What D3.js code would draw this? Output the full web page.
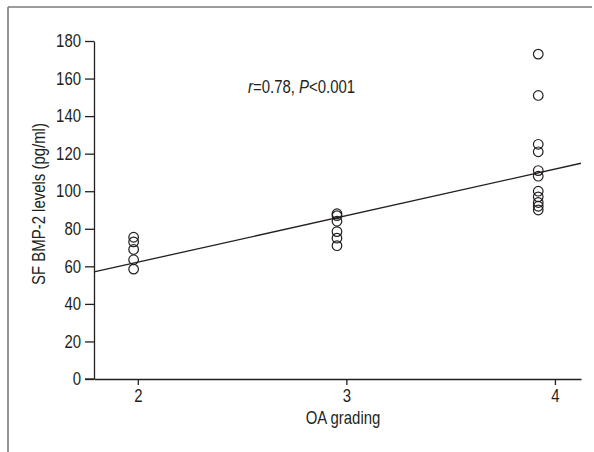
<!DOCTYPE html>
<html>
<head>
<meta charset="utf-8">
<script src="https://cdn.jsdelivr.net/npm/d3@7"></script>
<style>
  html, body { margin: 0; padding: 0; background: #fff; }
  svg text { font-family: "Liberation Sans", Arial, sans-serif; fill: #231f20; }
</style>
</head>
<body>
<svg id="chart" width="594" height="452"></svg>
<script>
// Data
const grades = [2, 3, 4];
const gradePositions = [1.98, 2.955, 3.92];   // plotted x of each group
const group2 = [75.5, 73, 69, 63.5, 58.5];
const group3 = [88, 87, 84, 78.5, 75, 71];
const group4 = [173, 151, 125, 121, 111, 108, 100, 97, 94, 92, 90];
const yTicks = [0, 20, 40, 60, 80, 100, 120, 140, 160, 180];
const xTicks = [2, 3, 4];
const fitIntercept = 12.6;
const fitSlope = 24.8;
const annotation = { r: "0.78", p: "0.001" };

const SX = 0.83;      // horizontal condensing of text
const FS = 18;
const svg = d3.select("#chart");
const x = d3.scaleLinear().domain([1.79, 4.125]).range([94, 581]);
const y = d3.scaleLinear().domain([0, 180]).range([379, 41]);

function condense(sel) {
  sel.each(function () {
    const el = d3.select(this);
    const xv = +(el.attr("x") || 0);
    el.attr("x", xv / SX);
    const tr = el.attr("transform") || "";
    el.attr("transform", (tr + " scale(" + SX + ",1)").trim());
  });
}

// frame
svg.append("line").attr("x1", 8).attr("x2", 592).attr("y1", 7).attr("y2", 7)
  .attr("stroke", "#3a3a3a").attr("stroke-width", 1.2);
svg.append("line").attr("x1", 8).attr("x2", 8).attr("y1", 7).attr("y2", 452)
  .attr("stroke", "#7a7a7a").attr("stroke-width", 1.6);

// y axis
const yAxis = svg.append("g").attr("transform", "translate(94,0)")
  .call(d3.axisLeft(y).tickValues(yTicks).tickSize(9).tickPadding(4).tickSizeOuter(0));
// x axis
const xAxis = svg.append("g").attr("transform", "translate(0,379)")
  .call(d3.axisBottom(x).tickValues(xTicks).tickSize(6).tickPadding(4).tickSizeOuter(0).tickFormat(d3.format("d")));
[yAxis, xAxis].forEach(g => {
  g.selectAll("path, line").attr("stroke", "#231f20").attr("stroke-width", 1.3);
  g.selectAll("text").attr("font-size", FS).attr("fill", "#231f20")
    .attr("font-family", '"Liberation Sans", Arial, sans-serif');
  condense(g.selectAll("text"));
});
svg.append("line").attr("x1", 85).attr("x2", 94).attr("y1", 379).attr("y2", 379)
  .attr("stroke", "#231f20").attr("stroke-width", 1.3);

// regression line
const [x0, x1] = x.domain();
svg.append("line")
  .attr("x1", x(x0)).attr("y1", y(fitIntercept + fitSlope * x0))
  .attr("x2", x(x1)).attr("y2", y(fitIntercept + fitSlope * x1))
  .attr("stroke", "#231f20").attr("stroke-width", 1.3);

// points
const groups = [group2, group3, group4];
const pts = [];
groups.forEach((vals, i) => vals.forEach(v => pts.push({ gx: gradePositions[i], v })));
svg.append("g").selectAll("circle").data(pts).join("circle")
  .attr("cx", d => x(d.gx)).attr("cy", d => y(d.v)).attr("r", 4.8)
  .attr("fill", "none").attr("stroke", "#231f20").attr("stroke-width", 1.2);

// annotation
const t = svg.append("text").attr("x", 248).attr("y", 93).attr("font-size", FS);
t.append("tspan").attr("font-style", "italic").text("r");
t.append("tspan").text("=" + annotation.r + ", ");
t.append("tspan").attr("font-style", "italic").text("P");
t.append("tspan").text("<" + annotation.p);
condense(t);

// axis titles
const xt = svg.append("text").attr("x", 343).attr("y", 424).attr("text-anchor", "middle")
  .attr("font-size", FS).text("OA grading");
condense(xt);
const yt = svg.append("text").attr("transform", "translate(45,204) rotate(-90)")
  .attr("text-anchor", "middle").attr("font-size", FS).text("SF BMP-2 levels (pg/ml)");
condense(yt);
</script>
</body>
</html>
